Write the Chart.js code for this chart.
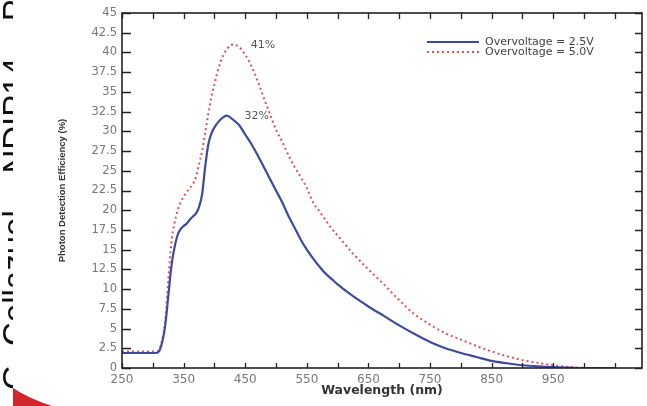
<!DOCTYPE html>
<html>
<head>
<meta charset="utf-8">
<script src="https://cdn.jsdelivr.net/npm/chart.js@4.4.1/dist/chart.umd.min.js"></script>
<style>
  html, body { margin: 0; padding: 0; background: #fff; }
  #wrap { width: 647px; height: 406px; }
</style>
</head>
<body>
<div id="wrap"><canvas id="pde-chart" width="647" height="406"></canvas></div>
<script>
// wavelength grid (nm) shared by both curves
const wavelengths = [250, 300, 305, 310, 315, 320, 325, 330, 335, 340,
    345, 350, 355, 360, 365, 370, 375, 380, 385, 390,
    395, 400, 410, 420, 430, 440, 450, 460, 470, 480,
    490, 500, 510, 520, 530, 540, 550, 560, 570, 580,
    590, 600, 625, 650, 675, 700, 725, 750, 775, 800,
    825, 850, 875, 900, 925, 950, 975, 1000, 1025, 1050];

// PDE (%) at 2.5 V overvoltage
const pdeOv25 = [1.9, 1.9, 1.9, 2.1, 3.2, 5.3, 9.0, 12.8, 15.2, 16.8,
    17.6, 18.0, 18.3, 18.8, 19.2, 19.6, 20.4, 22.0, 25.5, 28.3,
    29.7, 30.5, 31.5, 32.0, 31.5, 30.8, 29.6, 28.4, 27.0, 25.5,
    24.0, 22.5, 21.0, 19.3, 17.8, 16.3, 15.0, 13.9, 12.9, 12.0,
    11.3, 10.6, 9.1, 7.8, 6.6, 5.4, 4.3, 3.3, 2.5, 1.9,
    1.4, 0.9, 0.6, 0.35, 0.2, 0.1, 0.05, 0, 0, 0];

// PDE (%) at 5.0 V overvoltage
const pdeOv50 = [2.1, 2.1, 2.1, 2.3, 3.5, 5.8, 11.0, 15.8, 18.3, 19.9,
    21.0, 21.7, 22.3, 22.8, 23.3, 24.2, 25.8, 27.5, 29.8, 32.2,
    34.3, 36.0, 38.8, 40.4, 41.0, 40.7, 39.7, 38.3, 36.4, 34.3,
    32.2, 30.2, 28.7, 27.0, 25.5, 24.2, 22.8, 21.0, 19.9, 18.8,
    17.7, 16.8, 14.5, 12.5, 10.6, 8.6, 6.8, 5.5, 4.4, 3.6,
    2.8, 2.1, 1.5, 1.0, 0.65, 0.35, 0.12, 0.02, 0, 0];

const seriesLabels = ["Overvoltage = 2.5V", "Overvoltage = 5.0V"];
const xTickLabels = [250, 350, 450, 550, 650, 750, 850, 950, 1050];
// minor marks between the labelled wavelengths
const xTickMarks = [250, 300, 350, 400, 450, 500, 550, 600, 650, 700,
    750, 800, 850, 900, 950, 1000, 1050];
const yTickLabels = [0, 2.5, 5, 7.5, 10, 12.5, 15, 17.5, 20, 22.5,
    25, 27.5, 30, 32.5, 35, 37.5, 40, 42.5, 45];

const toPoints = (vals) => wavelengths.map((w, i) => ({ x: w, y: vals[i] }));

// box frame with inward tick marks on all four sides
const frameTicks = {
    id: "frameTicks",
    afterDraw(chart) {
        const { ctx, chartArea: a } = chart;
        const xs = chart.scales.x;
        const ys = chart.scales.y;
        ctx.save();
        ctx.setLineDash([]);
        ctx.strokeStyle = "#222";
        ctx.lineWidth = 1.3;
        xTickMarks.forEach((v) => {
            const px = Math.round(xs.getPixelForValue(v)) + 0.5;
            ctx.beginPath();
            ctx.moveTo(px, a.bottom);
            ctx.lineTo(px, a.bottom - 5);
            ctx.moveTo(px, a.top);
            ctx.lineTo(px, a.top + 6);
            ctx.stroke();
        });
        yTickLabels.forEach((v) => {
            const py = Math.round(ys.getPixelForValue(v)) + 0.5;
            ctx.beginPath();
            ctx.moveTo(a.left, py);
            ctx.lineTo(a.left + 9, py);
            ctx.moveTo(a.right, py);
            ctx.lineTo(a.right - 7, py);
            ctx.stroke();
        });
        ctx.lineWidth = 1.6;
        ctx.strokeRect(a.left, a.top, a.right - a.left, a.bottom - a.top);
        ctx.restore();
    },
};

// legend inside the plot, top right
const innerLegend = {
    id: "innerLegend",
    afterDatasetsDraw(chart) {
        const { ctx, chartArea: a } = chart;
        const x0 = a.right - 215;
        const y0 = a.top + 29;
        chart.data.datasets.forEach((ds, i) => {
            const yy = y0 + i * 10;
            ctx.save();
            ctx.strokeStyle = ds.borderColor;
            ctx.lineWidth = ds.borderWidth;
            ctx.setLineDash(ds.borderDash || []);
            ctx.beginPath();
            ctx.moveTo(x0, yy);
            ctx.lineTo(x0 + 52, yy);
            ctx.stroke();
            ctx.setLineDash([]);
            ctx.fillStyle = "#444";
            ctx.font = '11px "DejaVu Sans"';
            ctx.textBaseline = "middle";
            ctx.fillText(ds.label, x0 + 58, yy);
            ctx.restore();
        });
    },
};

// peak value written next to the maximum of each curve
const peakLabels = {
    id: "peakLabels",
    afterDatasetsDraw(chart) {
        const { ctx } = chart;
        ctx.save();
        ctx.fillStyle = "#555";
        ctx.font = '11px "DejaVu Sans"';
        ctx.textAlign = "center";
        ctx.textBaseline = "middle";
        chart.data.datasets.forEach((ds, i) => {
            const vals = ds.data.map((p) => p.y);
            const k = vals.indexOf(Math.max(...vals));
            const p = chart.getDatasetMeta(i).data[k];
            ctx.fillText(Math.round(vals[k]) + "%", p.x + 30, p.y + 1);
        });
        ctx.restore();
    },
};

// slide footer peeking out on the left + red swoosh bottom left
const slideBits = {
    id: "slideBits",
    afterDraw(chart) {
        const { ctx } = chart;
        ctx.save();
        ctx.beginPath();
        ctx.rect(0, 0, 13, 406);
        ctx.clip();
        ctx.translate(26, 390);
        ctx.rotate(-Math.PI / 2);
        ctx.fillStyle = "#111";
        ctx.font = '33px "Liberation Sans"';
        ctx.textBaseline = "alphabetic";
        ctx.fillText("G. Collazuol \u2013 NDIP14 \u2013 Padova", 0, 0);
        ctx.restore();

        ctx.save();
        ctx.fillStyle = "#d3262c";
        ctx.beginPath();
        ctx.moveTo(13, 388);
        ctx.quadraticCurveTo(28, 398, 52, 406);
        ctx.lineTo(13, 406);
        ctx.closePath();
        ctx.fill();
        ctx.restore();
    },
};

new Chart(document.getElementById("pde-chart"), {
    type: "line",
    data: {
        datasets: [
            {
                label: seriesLabels[0],
                data: toPoints(pdeOv25),
                borderColor: "#3d4aa0",
                borderWidth: 2.2,
                pointRadius: 0,
                cubicInterpolationMode: "monotone",
                fill: false,
            },
            {
                label: seriesLabels[1],
                data: toPoints(pdeOv50),
                borderColor: "#e0505a",
                borderWidth: 2,
                borderDash: [2, 3],
                pointRadius: 0,
                cubicInterpolationMode: "monotone",
                fill: false,
            },
        ],
    },
    options: {
        responsive: false,
        animation: false,
        events: [],
        layout: { padding: { top: 13, right: 4, left: 0, bottom: 0 } },
        plugins: {
            legend: { display: false },
            tooltip: { enabled: false },
        },
        scales: {
            x: {
                type: "linear",
                min: 250,
                max: 1094,
                grid: { display: false, drawTicks: false },
                border: { display: false },
                afterFit: (scale) => { scale.height = 38; },
                ticks: {
                    stepSize: 50,
                    autoSkip: false,
                    maxRotation: 0,
                    padding: 5,
                    color: "#777",
                    font: { family: "DejaVu Sans", size: 12 },
                    callback: (v) => (xTickLabels.includes(v) ? String(v) : ""),
                },
                title: {
                    display: true,
                    text: "Wavelength (nm)",
                    color: "#333",
                    font: { family: "DejaVu Sans", size: 12.5, weight: "bold" },
                    padding: { top: 0, bottom: 7.5 },
                },
            },
            y: {
                min: 0,
                max: 45,
                grid: { display: false, drawTicks: false },
                border: { display: false },
                afterFit: (scale) => { scale.width = 122; },
                ticks: {
                    stepSize: 2.5,
                    autoSkip: false,
                    padding: 5,
                    color: "#777",
                    font: { family: "DejaVu Sans", size: 11.5 },
                    callback: (v) => (yTickLabels.includes(v) ? String(v) : ""),
                },
                title: {
                    display: true,
                    text: "Photon Detection Efficiency (%)",
                    color: "#333",
                    font: { family: "Liberation Sans", size: 9.5, weight: "bold" },
                    padding: { top: 57, bottom: 0 },
                },
            },
        },
    },
    plugins: [frameTicks, innerLegend, peakLabels, slideBits],
});
</script>
</body>
</html>
